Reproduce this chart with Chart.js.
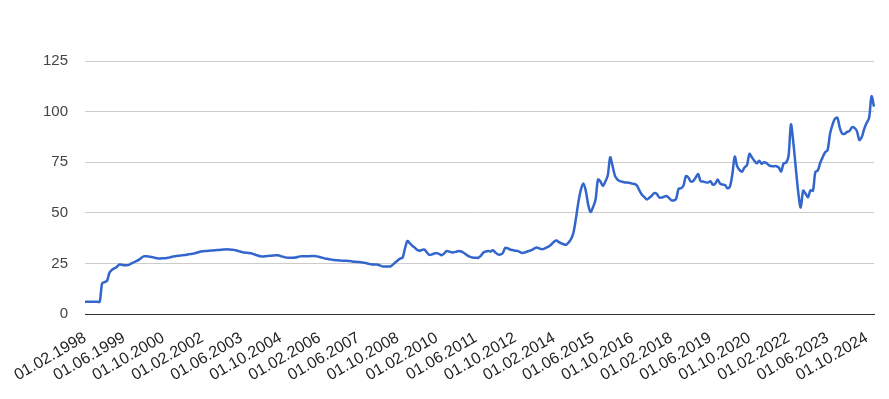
<!DOCTYPE html>
<html><head><meta charset="utf-8">
<script src="https://cdn.jsdelivr.net/npm/chart.js@4"></script>
<style>html,body{margin:0;padding:0;background:#fff}#wrap{width:889px;height:399px;position:relative}</style>
</head><body><div id="wrap"><canvas id="c"></canvas></div>
<script>
// Monthly series, first point 01.02.1998, one value per month
const startYear = 1998;
const startMonth = 2;
const values = [
  6.2, 6.2, 6.2, 6.2, 6.2, 6.2, 6.2, 15.3, 15.9, 16.5, 20.5,            // 1998-02 .. 1998-12
  21.9, 22.7, 23.4, 24.5, 24.5, 24.2, 24.2, 24.4, 25.1, 25.7, 26.3, 26.9, // 1999
  27.8, 28.6, 28.6, 28.5, 28.3, 28.1, 27.8, 27.6, 27.6, 27.7, 27.7, 27.9, // 2000
  28.2, 28.5, 28.7, 28.9, 29.0, 29.2, 29.3, 29.5, 29.7, 29.9, 30.1, 30.5, // 2001
  30.9, 31.1, 31.2, 31.3, 31.4, 31.5, 31.6, 31.7, 31.8, 31.9, 32.0, 32.1, // 2002
  32.0, 31.9, 31.8, 31.5, 31.2, 30.8, 30.5, 30.4, 30.3, 30.1, 29.7, 29.3, // 2003
  28.9, 28.6, 28.5, 28.7, 28.8, 28.9, 29.0, 29.1, 29.1, 28.8, 28.4, 28.1, // 2004
  27.9, 27.9, 27.9, 28.0, 28.3, 28.6, 28.7, 28.7, 28.7, 28.7, 28.8, 28.8, // 2005
  28.6, 28.3, 28.0, 27.6, 27.4, 27.2, 27.0, 26.8, 26.7, 26.6, 26.5, 26.4, // 2006
  26.4, 26.3, 26.2, 26.0, 25.9, 25.8, 25.7, 25.5, 25.3, 25.0, 24.7, 24.6, // 2007
  24.6, 24.5, 24.0, 23.6, 23.6, 23.6, 23.6, 24.5, 25.6, 26.6, 27.5, 28.0, // 2008
  32.5, 36.2, 35.0, 33.8, 32.9, 31.8, 31.4, 31.8, 31.9, 30.5, 29.3, 29.6, // 2009
  30.0, 30.2, 29.8, 29.2, 30.0, 31.2, 31.0, 30.6, 30.6, 30.9, 31.2, 31.0, // 2010
  30.4, 29.5, 28.7, 28.2, 27.9, 27.9, 27.9, 28.8, 30.4, 31.0, 31.3, 31.0, // 2011
  31.6, 30.5, 29.6, 29.5, 30.2, 32.8, 32.6, 32.0, 31.7, 31.4, 31.3, 30.8, // 2012
  30.3, 30.5, 31.0, 31.4, 31.8, 32.5, 33.0, 32.5, 32.1, 32.4, 33.0, 33.6, // 2013
  34.6, 35.8, 36.4, 35.6, 35.0, 34.6, 34.3, 35.5, 37.2, 40.5, 47.5, 55.5, // 2014
  61.5, 64.6, 61.0, 54.0, 50.5, 53.0, 56.5, 66.5, 65.5, 63.3, 65.5, 68.5, // 2015
  77.5, 73.0, 68.2, 66.5, 65.7, 65.4, 65.1, 65.0, 64.8, 64.5, 64.3, 63.5, // 2016
  61.0, 59.0, 57.8, 56.7, 57.5, 58.5, 59.8, 59.5, 57.8, 57.6, 58.0, 58.4, // 2017
  57.5, 56.3, 56.2, 57.0, 62.0, 62.2, 63.5, 68.2, 67.5, 65.5, 65.8, 67.5, // 2018
  69.2, 65.7, 65.5, 65.2, 65.0, 65.7, 64.0, 64.5, 66.5, 64.5, 64.0, 63.8, // 2019
  62.2, 63.0, 69.0, 77.8, 73.0, 71.2, 70.4, 72.5, 73.6, 79.2, 77.5, 75.8, // 2020
  74.5, 75.8, 74.3, 75.0, 74.6, 73.5, 73.1, 73.1, 73.1, 72.5, 70.4, 74.5, // 2021
  74.8, 78.0, 93.7, 84.5, 72.0, 60.0, 52.7, 61.0, 59.5, 57.8, 61.2, 61.0, // 2022
  70.2, 71.0, 74.8, 77.5, 80.0, 81.0, 89.1, 93.5, 96.5, 97.0, 92.0, 89.1, // 2023
  89.1, 90.0, 90.5, 92.3, 92.0, 90.4, 86.0, 87.5, 91.5, 94.5, 97.0, 107.6, // 2024
  102.5                                                                   // 2025-01
];
const tickLabels = ['01.02.1998','01.06.1999','01.10.2000','01.02.2002','01.06.2003','01.10.2004',
  '01.02.2006','01.06.2007','01.10.2008','01.02.2010','01.06.2011','01.10.2012','01.02.2014',
  '01.06.2015','01.10.2016','01.02.2018','01.06.2019','01.10.2020','01.02.2022','01.06.2023','01.10.2024'];
const yTicks = [0, 25, 50, 75, 100, 125];

const categories = [];
for (let i = 0; i < values.length; i++) {
  const m = (startMonth - 1 + i) % 12 + 1;
  const y = startYear + Math.floor((startMonth - 1 + i) / 12);
  categories.push('01.' + String(m).padStart(2, '0') + '.' + y);
}
const shown = new Set(tickLabels);

new Chart(document.getElementById('c'), {
  type: 'line',
  data: {
    labels: categories,
    datasets: [{
      data: values,
      borderColor: '#3366cc',
      borderWidth: 2.5,
      pointRadius: 0,
      tension: 0.3,
      fill: false
    }]
  },
  options: {
    responsive: true,
    maintainAspectRatio: false,
    animation: false,
    layout: { padding: { top: 61, right: 15, left: 26, bottom: 0 } },
    plugins: { legend: { display: false }, tooltip: { enabled: false } },
    scales: {
      x: {
        afterFit: (s) => { s.paddingLeft = 0; s.paddingRight = 0; },
        grid: { display: false, drawTicks: false },
        border: { display: true, color: '#333', width: 1 },
        ticks: {
          autoSkip: false,
          minRotation: 30,
          maxRotation: 30,
          padding: 14,
          color: '#222',
          font: { family: 'Liberation Sans, Arial, sans-serif', size: 16 },
          callback: function (v, i) { const l = categories[i]; return shown.has(l) ? l : ''; }
        }
      },
      y: {
        min: 0, max: 125,
        afterBuildTicks: (s) => { s.ticks = yTicks.map(v => ({ value: v })); },
        grid: { color: '#cccccc', drawTicks: false },
        border: { display: false },
        ticks: {
          padding: 17,
          color: '#444',
          font: { family: 'Liberation Sans, Arial, sans-serif', size: 15 }
        }
      }
    }
  }
});
</script>
</body></html>
